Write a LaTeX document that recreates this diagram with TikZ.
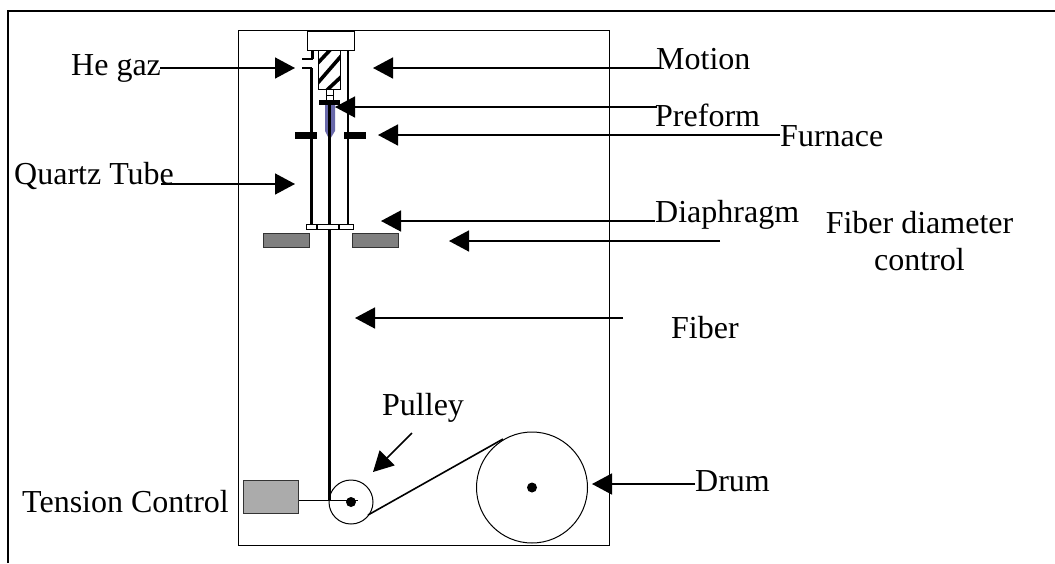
\documentclass[tikz,border=0pt]{standalone}
\usepackage{fontspec}
\setmainfont{Liberation Serif}
\usetikzlibrary{arrows.meta}
\definecolor{preformblue}{RGB}{105,105,170}
\tikzset{
  lbl/.style={inner sep=0pt,font=\fontsize{32}{37}\selectfont,anchor=base west},
  arr/.style={line width=1.5pt,-{Triangle[length=20pt,width=21pt]}},
  tube/.style={line width=2.7pt},
  fib/.style={line width=3.3pt},
  blk/.style={fill=black,inner sep=0pt,anchor=north west},
  box/.style={draw,line width=1pt,inner sep=0pt,anchor=north west},
  graybox/.style={draw=black!80,line width=1pt,fill=black!50,inner sep=0pt,anchor=north west,minimum width=46pt,minimum height=14pt}
}
\begin{document}
\begin{tikzpicture}[x=1pt,y=-1pt]
\useasboundingbox (0,0) rectangle (1055,563);
\coordinate (fa) at (8,563); \coordinate (fb) at (8,11); \coordinate (fc) at (1055,11);
\draw[line width=1.5pt] (fa) -- (fb) -- (fc);
\node[box,line width=1.1pt,minimum width=371pt,minimum height=515pt] (panel) at (238,30) {};
% head
\node[box,fill=white,minimum width=47pt,minimum height=19pt] (head) at (307,31) {};
% preform holder with thick stripes
\node[box,fill=white,minimum width=22pt,minimum height=39pt] (holder) at (318,50) {};
\begin{scope}
\clip (318,50) rectangle (340,89);
\coordinate (s1a) at (316,65); \coordinate (s1b) at (332,48);
\coordinate (s2a) at (316,85); \coordinate (s2b) at (342,55);
\coordinate (s3a) at (326,91); \coordinate (s3b) at (342,76);
\draw[line width=3.6pt] (s1a) -- (s1b) (s2a) -- (s2b) (s3a) -- (s3b);
\end{scope}
% tubes
\coordinate (tl0) at (312.5,50); \coordinate (tl1) at (312.5,59);
\coordinate (tl3) at (311.5,68); \coordinate (tl2) at (311.5,224);
\coordinate (tr1) at (348,50); \coordinate (tr2) at (348,224);
\draw[tube] (tl0) -- (tl1);
\draw[tube] (tl3) -- (tl2);
\draw[tube] (tr1) -- (tr2);
% gas inlet
\coordinate (g1) at (302,59); \coordinate (g2) at (313,59); \coordinate (g3) at (302,68); \coordinate (g4) at (312,68);
\draw[line width=1.3pt] (g1) -- (g2) (g3) -- (g4);
% rod and preform
\node[box,fill=white,minimum width=7pt,minimum height=11pt] (rod) at (326,89) {};
\coordinate (r1) at (326,95); \coordinate (r2) at (333,95);
\draw[line width=.8pt] (r1) -- (r2);
\coordinate (pa) at (325,104); \coordinate (pb) at (335,104); \coordinate (pc) at (335,131); \coordinate (pd) at (329.5,140); \coordinate (pe) at (325,131);
\fill[preformblue] (pa) -- (pb) -- (pc) -- (pd) -- (pe) -- cycle;
\node[blk,minimum width=21pt,minimum height=4.5pt] (clamp) at (319,100) {};
% fibre
\coordinate (f1) at (329.5,104); \coordinate (f2) at (329.5,224);
\draw[fib] (f1) -- (f2);
% furnace
\node[blk,minimum width=22pt,minimum height=7pt] (fl) at (295,132) {};
\node[blk,minimum width=22pt,minimum height=7pt] (fr) at (344,132) {};
% diaphragm
\node[box,fill=white,minimum width=47pt,minimum height=5pt] (dia) at (306,224) {};
\coordinate (d1) at (317,224); \coordinate (d1b) at (317,229);
\coordinate (d2) at (339,224); \coordinate (d2b) at (339,229);
\draw[line width=2pt] (d1) -- (d1b) (d2) -- (d2b);
% diameter control
\node[graybox] (dl) at (263,233) {};
\node[graybox] (dr) at (352,233) {};
% fibre lower
\coordinate (f3) at (329.5,229); \coordinate (f4) at (329.5,500);
\draw[fib] (f3) -- (f4);
% pulley, drum
\node[draw,circle,line width=1pt,minimum size=44pt,inner sep=0pt] (pulley) at (351,502) {};
\node[draw,circle,line width=1pt,minimum size=111pt,inner sep=0pt] (drum) at (532,487.5) {};
\node[fill=black,circle,minimum size=10pt,inner sep=0pt] (pd1) at (351,502) {};
\node[fill=black,circle,minimum size=10pt,inner sep=0pt] (dd1) at (532,487.5) {};
\coordinate (b1) at (368,515); \coordinate (b2) at (503,439);
\draw[line width=1.6pt] (b1) -- (b2);
% tension
\node[box,draw=black!80,fill=black!33,minimum width=55pt,minimum height=33pt] (tc) at (243,480) {};
\coordinate (tcl) at (299,500); \coordinate (pul) at (358,500);
\draw[line width=.8pt] (tcl) -- (pul);
% labels
\node[lbl] (lhe) at (71,75) {He gaz};
\node[lbl] (lqt) at (14,184) {Quartz Tube};
\node[lbl] (lmo) at (656,69) {Motion};
\node[lbl] (lpr) at (655,126) {Preform};
\node[lbl] (lfu) at (780,146) {Furnace};
\node[lbl] (ldi) at (655,222) {Diaphragm};
\node[lbl,align=center,anchor=base] (lfd) at (919.5,270) {Fiber diameter\\control};
\node[lbl] (lfi) at (671,338) {Fiber};
\node[lbl] (lpu) at (382,415) {Pulley};
\node[lbl] (ldr) at (695,491) {Drum};
\node[lbl] (ltc) at (22,512) {Tension Control};
% arrows
\coordinate (a1) at (295,68); \coordinate (a1s) at (160,68);
\draw[arr] (a1s) -- (a1);
\coordinate (a2) at (373,68); \coordinate (a2s) at (660,68);
\draw[arr] (a2s) -- (a2);
\coordinate (a3) at (335,107); \coordinate (a3s) at (657,107);
\draw[arr] (a3s) -- (a3);
\coordinate (a4) at (378,135); \coordinate (a4s) at (780,135);
\draw[arr] (a4s) -- (a4);
\coordinate (a5) at (295,184); \coordinate (a5s) at (161,184);
\draw[arr] (a5s) -- (a5);
\coordinate (a6) at (381,221); \coordinate (a6s) at (655,221);
\draw[arr] (a6s) -- (a6);
\coordinate (a7) at (449,241); \coordinate (a7s) at (720,241);
\draw[arr] (a7s) -- (a7);
\coordinate (a8) at (355,318); \coordinate (a8s) at (623,318);
\draw[arr] (a8s) -- (a8);
\coordinate (a9) at (373,472); \coordinate (a9s) at (412,433);
\draw[arr] (a9s) -- (a9);
\coordinate (a10) at (592,484); \coordinate (a10s) at (695,484);
\draw[arr] (a10s) -- (a10);
\end{tikzpicture}
\end{document}
